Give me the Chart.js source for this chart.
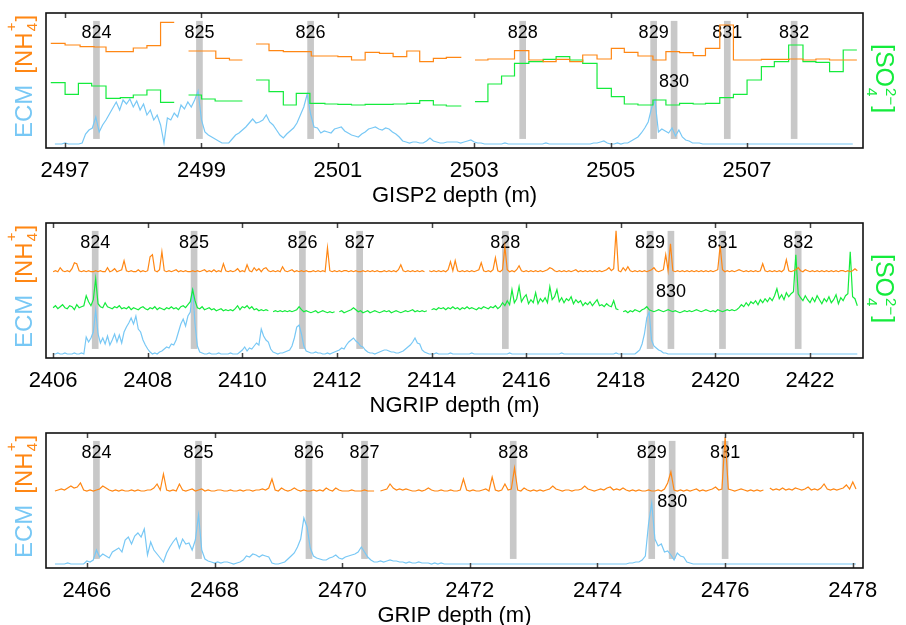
<!DOCTYPE html>
<html><head><meta charset="utf-8">
<script src="https://cdn.jsdelivr.net/npm/chart.js@4.4.1/dist/chart.umd.min.js"></script>
<style>
html,body{margin:0;padding:0;background:#fff;overflow:hidden;width:906px;height:625px;}
canvas{position:absolute;left:0;}
</style></head><body>
<canvas id="c1" width="906" height="210" style="top:0px"></canvas>
<canvas id="c2" width="906" height="210" style="top:210px"></canvas>
<canvas id="c3" width="906" height="210" style="top:420px"></canvas>
<script>
// ---------------- DATA ----------------
// GISP2 (step data as [depth, value], null = gap)
const gisp2Ticks = [2497, 2499, 2501, 2503, 2505, 2507];
const gisp2TickLabels = ['2497', '2499', '2501', '2503', '2505', '2507'];
const gisp2Events = ['824', '825', '826', '828', '829', '830', '831', '832'];
const gisp2EventDepths = [2497.46, 2498.97, 2500.60, 2503.71, 2505.63, 2505.93, 2506.71, 2507.69];
const gisp2NH4 = [
 [2496.79,31.7],[2497.00,30],[2497.22,28.3],[2497.425,28],[2497.60,23.3],[2498.00,27],[2498.20,29.3],[2498.40,52.7],[2498.60,52.7],[2498.70,null],
 [2498.81,24],[2499.21,16.7],[2499.41,15],[2499.60,15],[2499.70,null],
 [2499.80,31],[2499.99,24.3],[2500.20,23.3],[2500.61,19],[2501.00,18.3],[2501.20,15],[2501.40,22.7],[2501.61,21.7],[2501.81,18.3],[2502.01,24],[2502.20,13.3],[2502.40,16.7],[2502.59,17.7],[2502.81,17.7],[2502.90,null],
 [2503.01,15],[2503.20,16],[2503.59,24.3],[2503.80,15],[2504.01,13.3],[2504.20,15.7],[2504.40,13.3],[2504.59,20],[2504.80,16],[2505.01,26.7],[2505.20,22.7],[2505.40,19],[2505.62,15],[2505.81,23.3],[2506.01,22.3],[2506.21,19.3],[2506.39,26.7],[2506.60,50],[2506.80,15],[2507.21,15.7],[2507.62,16],[2507.82,15],[2508.01,16],[2508.21,15],[2508.61,15]
];
const gisp2SO4 = [
 [2496.79,37.3],[2497.00,25.7],[2497.195,36.7],[2497.39,34],[2497.60,21.7],[2497.81,22.3],[2498.00,25],[2498.20,30],[2498.40,17.7],[2498.60,17.7],[2498.70,null],
 [2498.81,25],[2499.00,21],[2499.20,19],[2499.60,19],[2499.70,null],
 [2499.80,40],[2499.99,28.3],[2500.20,15],[2500.39,26.7],[2500.59,16.7],[2500.81,16],[2501.00,15.7],[2501.20,15],[2501.40,15.7],[2501.61,15.7],[2501.81,16],[2502.01,16.7],[2502.20,19.3],[2502.40,15],[2502.59,14],[2502.81,14],[2502.90,null],
 [2503.01,18.3],[2503.20,36],[2503.40,44],[2503.59,56.7],[2503.80,58.3],[2504.01,60.7],[2504.20,63.3],[2504.40,60],[2504.59,56.7],[2504.80,31.7],[2505.01,23.3],[2505.20,16],[2505.40,15],[2505.62,20],[2505.81,15],[2506.01,16.7],[2506.21,16],[2506.39,16.7],[2506.60,22.3],[2506.80,25.7],[2507.00,40],[2507.21,53.3],[2507.40,58.3],[2507.61,75],[2507.82,58.3],[2508.01,57.7],[2508.21,48.3],[2508.41,70],[2508.61,70]
];
// GISP2 ECM sampled every 0.05 m from 2496.85 m
const gisp2EcmStart = 2496.85, gisp2EcmStep = 0.05;
const gisp2ECM = [
 0,0,0,1,0,0,0,0,1,
 10,14,16,27,12,19,24,30,36,42,34,
 44,40,45,37,43,34,40,29,34,24,
 29,19,1,26,24,31,27,39,35,42,
 37,44,53,24,12,9,7,5,3,1,
 1,1,5,9,11,14,17,21,25,21,
 22,24,29,22,19,14,9,6,10,13,
 16,21,29,37,50,30,17,16,11,13,
 12,11,15,16,17,13,11,9,8,7,
 10,12,15,16,17,15,14,16,15,12,
 10,7,3,2,1,2,2,1,1,3,
 6,3,2,1,1,2,2,2,2,1,
 2,3,4,2,1,1,0,0,0,0,
 0,0,1,0,0,0,0,0,0,0,
 0,0,0,0,1,0,0,0,0,0,
 0,0,0,0,0,0,0,0,1,1,
 2,3,1,0,0,1,0,1,1,3,
 5,7,11,16,22,36,44,12,15,13,
 11,16,8,14,7,4,3,1,1,1,
 0,0,0,0,0,0,0,0,0,0,
 0,0,0,0,0,0,0,0,0,0,
 0,0,0,0,0,0,0,0,0,0,
 0,0,0,0,0,0,0,0,0,0,
 0,0,0,0,0
];

// NGRIP, sampled every 0.05 m from 2406.00 m
const ngripTicks = [2406, 2408, 2410, 2412, 2414, 2416, 2418, 2420, 2422];
const ngripTickLabels = ['2406', '2408', '2410', '2412', '2414', '2416', '2418', '2420', '2422'];
const ngripEvents = ['824', '825', '826', '827', '828', '829', '830', '831', '832'];
const ngripEventDepths = [2406.89, 2408.98, 2411.27, 2412.48, 2415.56, 2418.62, 2419.06, 2420.15, 2421.75];
const ngripStart = 2406.00, ngripStep = 0.05;
const ngripECM = [
 0,0,1,0,0,1,0,0,0,1,
 0,0,1,0,17,12,16,22,44,20,
 11,16,10,18,9,14,20,12,19,11,
 22,27,31,36,30,38,25,22,14,9,
 5,2,0,1,0,2,3,5,7,6,
 10,9,14,22,30,35,28,38,42,66,
 30,8,2,1,0,0,1,0,0,0,
 1,0,0,0,0,1,0,0,0,2,
 4,7,3,6,5,8,11,9,25,18,
 14,12,5,2,1,0,1,1,2,3,
 4,8,16,27,29,20,8,3,2,1,
 1,2,1,1,0,0,1,0,1,2,
 3,4,6,5,9,12,14,16,13,11,
 8,7,4,2,1,1,0,1,2,3,
 4,4,3,2,2,1,1,2,3,5,
 7,9,12,16,11,10,4,2,1,0,
 0,0,1,0,0,0,0,0,1,0,
 0,0,0,0,0,0,0,1,0,0,
 0,0,0,0,0,0,0,0,0,0,
 0,0,0,1,0,0,0,0,0,0,
 0,0,0,0,0,0,0,0,0,0,
 0,0,0,0,0,1,0,0,0,0,
 0,0,0,0,0,0,0,0,0,0,
 0,0,0,0,0,0,0,0,1,0,
 0,0,0,0,0,0,0,2,4,10,
 20,36,42,14,8,6,4,3,1,1,
 0,0,0,0,0,0,0,0,0,0,
 0,0,0,0,0,0,0,0,0,0,
 0,0,0,0,0,0,0,0,0,0,
 0,0,0,0,0,0,0,0,0,0,
 0,0,0,0,0,0,0,0,0,0,
 0,0,0,0,0,0,0,0,0,0,
 0,0,0,0,0,0,0,0,0,0,
 0,0,0,0,0,0,0,0,0,0,
 0
];
const ngripSO4 = [
 4,6,3,5,7,4,3,6,5,2,
 7,4,5,6,16,10,6,12,33,8,
 5,4,9,5,4,3,5,4,6,3,
 4,3,5,2,4,3,2,4,5,3,
 2,4,3,5,2,4,3,2,4,3,
 5,3,4,2,5,6,4,7,10,22,
 11,4,3,5,2,3,4,2,3,1,
 2,3,1,2,1,2,1,3,6,2,
 5,4,6,3,5,2,3,1,2,1,
 2,1,null,0,1,0,1,0,1,0,
 1,0,1,2,5,2,0,1,0,-1,
 0,1,-1,0,1,0,-1,0,-1,0,
 null,0,1,-1,0,1,2,4,2,0,
 1,-1,0,1,-1,0,1,0,-1,0,
 1,0,1,-1,0,1,0,-1,0,1,
 0,1,2,0,1,0,1,0,1,null,
 2,3,2,4,3,4,2,4,3,5,
 3,4,2,4,3,5,3,4,3,2,
 4,3,5,4,3,5,4,6,3,5,
 9,6,11,7,22,9,13,25,10,14,
 17,8,12,9,19,8,13,10,14,9,
 25,12,15,22,10,14,9,13,11,15,
 8,12,9,11,6,9,7,10,6,9,
 12,6,7,5,8,6,5,11,3,2,
 null,0,1,-1,1,0,2,1,0,2,
 3,5,2,1,0,1,2,1,0,1,
 2,1,0,1,0,-1,0,1,0,1,
 0,1,2,1,0,1,2,1,0,1,
 0,2,1,0,1,2,1,2,1,2,
 4,7,5,9,6,10,8,11,7,12,
 9,13,10,14,11,16,23,13,17,12,
 19,15,18,20,57,18,14,11,16,12,
 9,14,10,16,12,8,13,10,15,9,
 12,17,8,14,11,16,18,60,15,13,
 6
];
const ngripNH4 = [
 0,1,0,4,1,0,1,0,3,9,
 8,1,0,1,0,1,0,0,1,0,
 1,0,0,4,0,1,3,0,1,2,
 11,1,0,1,0,0,2,0,1,0,
 1,15,17,1,0,2,20,1,0,1,
 0,1,2,0,1,0,1,0,0,1,
 0,1,0,1,2,0,1,0,2,0,
 1,0,8,1,0,1,0,1,3,0,
 1,0,7,1,0,4,1,3,0,3,
 4,1,0,1,0,1,0,5,1,0,
 1,2,0,1,0,1,0,1,0,0,
 1,0,1,0,1,0,24,1,0,1,
 0,1,0,1,1,0,1,0,1,0,
 0,1,0,1,0,1,0,1,0,0,
 1,0,1,0,1,0,2,7,1,0,
 1,0,1,0,1,0,1,0,null,1,
 0,1,0,1,0,1,0,2,10,1,
 11,1,0,1,0,1,0,1,0,1,
 2,9,1,0,1,0,2,14,1,0,
 2,25,2,0,1,0,2,6,1,0,
 1,0,1,0,1,0,1,0,1,2,
 4,3,1,0,1,0,1,0,1,0,
 1,2,0,1,0,1,0,1,0,1,
 0,1,0,1,2,4,1,3,41,1,
 0,4,1,5,1,0,1,0,1,0,
 1,0,1,2,4,1,0,1,2,17,
 1,28,1,0,1,0,1,0,1,0,
 1,0,1,0,1,0,1,0,1,0,
 1,2,26,2,0,1,0,1,0,1,
 2,1,0,1,0,1,0,1,0,1,
 8,1,0,1,0,1,0,1,0,2,
 12,1,0,1,2,4,1,0,2,1,
 0,1,0,1,0,1,0,1,0,1,
 0,1,0,1,1,0,1,0,1,3,
 1
];

// GRIP, sampled every 0.05 m from 2465.50 m
const gripTicks = [2466, 2468, 2470, 2472, 2474, 2476, 2478];
const gripTickLabels = ['2466', '2468', '2470', '2472', '2474', '2476', '2478'];
const gripEvents = ['824', '825', '826', '827', '828', '829', '830', '831'];
const gripEventDepths = [2466.15, 2467.75, 2469.48, 2470.35, 2472.68, 2474.85, 2475.17, 2476.00];
const gripStart = 2465.50, gripStep = 0.05;
const gripECM = [
 0,0,0,0,1,0,0,0,0,0,
 3,2,4,14,7,10,8,6,12,14,
 16,12,24,27,20,28,31,27,35,9,
 22,14,10,6,2,11,17,22,26,16,
 25,20,21,14,24,49,14,5,3,2,
 1,2,1,2,2,1,0,1,2,4,
 8,7,10,9,7,9,8,7,1,0,
 0,1,2,5,8,11,17,25,46,37,
 16,8,6,5,4,4,6,7,9,6,
 5,7,8,9,10,12,17,12,7,4,
 2,2,3,2,3,4,3,3,2,2,
 1,2,1,1,2,1,1,1,0,1,
 0,1,0,0,0,0,0,0,0,0,
 0,0,0,0,0,0,0,0,0,0,
 0,0,0,0,0,0,0,0,0,0,
 0,0,0,0,0,0,0,0,0,0,
 0,0,0,0,0,0,0,0,0,0,
 0,0,0,0,0,0,0,0,0,0,
 1,1,2,2,4,8,40,61,25,18,
 20,12,13,9,4,11,8,7,2,1,
 0,0,0,0,0,0,0,0,0,0,
 0,0,0,0,0,0,0,0,0,0,
 0,0,0,0,0,0,0,0,0,0,
 0,0,0,0,0,0,0,0,0,0,
 0,0,0,0,0,0,0,0,0,0,
 0,0
];
const gripNH4 = [
 0,1,2,1,3,5,3,4,8,1,
 0,1,0,1,2,5,3,1,0,1,
 0,1,0,0,1,0,1,0,0,1,
 1,3,7,1,17,1,0,1,0,7,
 1,0,1,2,0,1,2,0,1,0,
 0,1,1,0,0,1,0,0,1,0,
 1,1,0,1,1,2,1,3,12,1,
 0,3,1,0,1,3,1,0,1,0,
 0,1,0,1,0,3,1,0,3,1,
 0,0,0,1,0,0,0,1,0,0,
 0,null,0,1,2,7,3,1,2,1,
 2,1,0,0,1,0,1,3,1,0,
 0,1,0,0,1,0,0,1,12,1,
 0,1,0,0,1,2,0,14,1,0,
 1,7,1,2,23,1,0,3,1,0,
 1,0,1,0,1,2,5,2,1,0,
 1,1,0,1,1,2,5,2,1,0,
 1,2,1,3,4,1,2,1,3,1,
 0,1,0,1,0,0,1,0,0,1,
 0,2,8,19,1,0,1,0,1,0,
 1,2,0,1,0,1,2,4,1,2,
 54,2,1,0,1,2,1,0,1,0,
 1,0,1,null,3,1,2,1,3,1,
 2,1,3,2,1,2,4,1,2,1,
 3,7,2,1,2,1,2,3,6,2,
 9,2
];

// ---------------- STYLE / HELPERS ----------------
const FONT = "'Liberation Sans', Arial, Helvetica, sans-serif";
const ORANGE = 'rgb(255,135,20)';
const GREEN = 'rgb(20,235,60)';
const BLUE = 'rgb(120,200,245)';
const GRAY = 'rgb(200,200,200)';

function sampled(start, step, vals) {
  return vals.map((v, i) => ({ x: Math.round((start + i * step) * 1000) / 1000, y: v }));
}
function pairs(arr) { return arr.map(p => ({ x: p[0], y: p[1] })); }

function drawLeftLabel(c, a) {
  c.save();
  c.translate(31.5, a.top + 125);
  c.rotate(-Math.PI / 2);
  c.textAlign = 'left'; c.textBaseline = 'alphabetic';
  let x = 0;
  c.font = '24px ' + FONT; c.fillStyle = BLUE;
  c.fillText('ECM', x, 0); x += c.measureText('ECM').width + 11;
  c.fillStyle = ORANGE;
  c.fillText('[NH', x, 0); x += c.measureText('[NH').width + 1;
  c.font = '15px ' + FONT;
  c.fillText('4', x, 5); c.fillText('+', x, -16);
  x += Math.max(c.measureText('4').width, c.measureText('+').width) + 1;
  c.font = '24px ' + FONT;
  c.fillText(']', x, 0);
  c.restore();
}
function drawRightLabel(c, a) {
  c.save();
  c.translate(876, a.top + 31);
  c.rotate(Math.PI / 2);
  c.textAlign = 'left'; c.textBaseline = 'alphabetic';
  let x = 0;
  c.font = '25px ' + FONT; c.fillStyle = GREEN;
  c.fillText('[SO', x, 0); x += c.measureText('[SO').width + 1;
  c.font = '15px ' + FONT;
  c.fillText('4', x, 9); c.fillText('2\u2212', x, -10);
  x += Math.max(c.measureText('4').width, c.measureText('2\u2212').width) + 1;
  c.font = '25px ' + FONT;
  c.fillText(']', x, 0);
  c.restore();
}

function makePanel(id, p) {
  const deco = {
    id: 'deco_' + id,
    afterDatasetDraw(chart, args) {
      if (args.index !== 0) return;
      const c = chart.ctx, xs = chart.scales.x, top = chart.chartArea.top;
      c.save();
      c.font = '18px ' + FONT; c.fillStyle = '#000';
      c.textAlign = 'center'; c.textBaseline = 'middle';
      p.events.forEach((name, k) => {
        const x = xs.getPixelForValue(p.eventDepths[k]);
        c.fillText(name, x, name === '830' ? top + 69 : top + 20);
      });
      c.restore();
    },
    afterDraw(chart) {
      const c = chart.ctx, a = chart.chartArea, xs = chart.scales.x;
      c.save();
      c.strokeStyle = '#444'; c.lineWidth = 1.5;
      p.ticks.forEach(v => {
        const x = Math.round(xs.getPixelForValue(v)) + 0.5;
        c.beginPath();
        c.moveTo(x, a.bottom); c.lineTo(x, a.bottom - 5);
        c.moveTo(x, a.top); c.lineTo(x, a.top + 5);
        c.stroke();
      });
      c.strokeStyle = '#111'; c.lineWidth = 1.6;
      c.strokeRect(a.left, a.top, a.right - a.left, a.bottom - a.top);
      c.restore();
      drawLeftLabel(c, a);
      if (p.so4) drawRightLabel(c, a);
    }
  };
  const bars = {
    type: 'bar', label: 'events',
    data: p.eventDepths.map(d => ({ x: d, y: [0, 1] })),
    backgroundColor: GRAY, borderWidth: 0, barThickness: 6,
    yAxisID: 'yB', order: 10, grouped: false
  };
  const scales = {
    x: {
      type: 'linear', min: p.xMin, max: p.xMax, offset: false,
      grid: { display: false, drawTicks: false }, border: { display: false },
      afterBuildTicks: s => { s.ticks = p.ticks.map(v => ({ value: v })); },
      afterFit: s => { s.height = 62; },
      ticks: { autoSkip: false, maxRotation: 0, padding: 10, color: '#000',
               font: { family: FONT, size: 22 },
               callback: (v, i) => p.tickLabels[i] },
      title: { display: true, text: p.title, color: '#000',
               font: { family: FONT, size: 22 }, padding: { top: 0, bottom: 1 } }
    },
    yB: { display: false, min: -0.08, max: 1.07 }
  };
  Object.keys(p.yRanges).forEach(k => {
    scales[k] = { display: false, min: p.yRanges[k][0], max: p.yRanges[k][1] };
  });
  new Chart(document.getElementById(id).getContext('2d'), {
    type: 'line',
    data: { datasets: [bars].concat(p.lines) },
    options: {
      responsive: false, animation: false, devicePixelRatio: 1, events: [],
      layout: { padding: { left: 46, right: 43, top: 13, bottom: 0 } },
      plugins: { legend: { display: false }, tooltip: { enabled: false } },
      elements: { point: { radius: 0 }, line: { tension: 0, borderWidth: 1.2 } },
      scales: scales
    },
    plugins: [deco]
  });
}

function line(data, color, axis, order, stepped) {
  return { type: 'line', data: data, borderColor: color, borderWidth: 1.2, pointRadius: 0,
           fill: false, spanGaps: false, yAxisID: axis, order: order, stepped: stepped || false };
}

makePanel('c1', {
  xMin: 2496.72, xMax: 2508.70, ticks: gisp2Ticks, tickLabels: gisp2TickLabels,
  title: 'GISP2 depth (m)', events: gisp2Events, eventDepths: gisp2EventDepths, so4: true,
  yRanges: { yE: [-4, 131], yN: [-73, 62], yS: [-28, 107] },
  lines: [
    line(sampled(gisp2EcmStart, gisp2EcmStep, gisp2ECM), BLUE, 'yE', 3),
    line(pairs(gisp2SO4), GREEN, 'yS', 2, 'before'),
    line(pairs(gisp2NH4), ORANGE, 'yN', 1, 'before')
  ]
});
makePanel('c2', {
  xMin: 2405.85, xMax: 2423.12, ticks: ngripTicks, tickLabels: ngripTickLabels,
  title: 'NGRIP depth (m)', events: ngripEvents, eventDepths: ngripEventDepths, so4: true,
  yRanges: { yE: [-4, 131], yN: [-86.3, 48.7], yS: [-46.3, 88.7] },
  lines: [
    line(sampled(ngripStart, ngripStep, ngripECM), BLUE, 'yE', 3),
    line(sampled(ngripStart, ngripStep, ngripSO4), GREEN, 'yS', 2),
    line(sampled(ngripStart, ngripStep, ngripNH4), ORANGE, 'yN', 1)
  ]
});
makePanel('c3', {
  xMin: 2465.36, xMax: 2478.16, ticks: gripTicks, tickLabels: gripTickLabels,
  title: 'GRIP depth (m)', events: gripEvents, eventDepths: gripEventDepths, so4: false,
  yRanges: { yE: [-4, 131], yN: [-77, 58] },
  lines: [
    line(sampled(gripStart, gripStep, gripECM), BLUE, 'yE', 3),
    line(sampled(gripStart, gripStep, gripNH4), ORANGE, 'yN', 1)
  ]
});
</script>
</body></html>
